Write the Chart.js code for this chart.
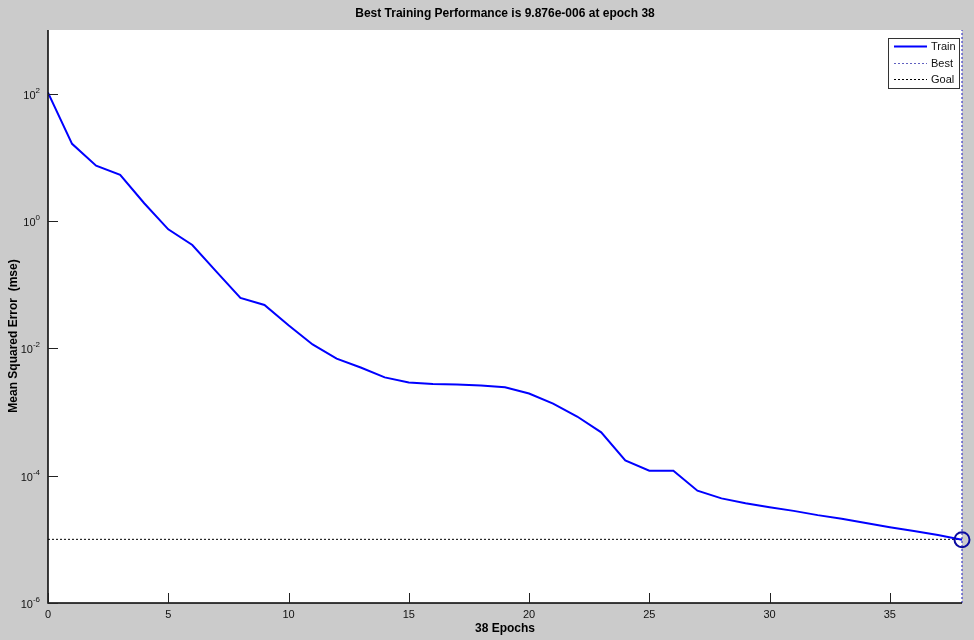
<!DOCTYPE html>
<html><head><meta charset="utf-8">
<script src="https://cdn.jsdelivr.net/npm/chart.js@4.4.1/dist/chart.umd.min.js"></script>
<style>html,body{margin:0;padding:0;background:#cbcbcb;}#wrap{width:974px;height:640px;}</style>
</head><body><div id="wrap"><canvas id="c" width="974" height="640"></canvas></div>
<script>
const epochs = [0,1,2,3,4,5,6,7,8,9,10,11,12,13,14,15,16,17,18,19,20,21,22,23,24,25,26,27,28,29,30,31,32,33,34,35,36,37,38];
const trainMse = [104,16.3,7.4,5.3,1.9,0.74,0.42,0.16,0.062,0.048,0.023,0.0115,0.0069,0.0050,0.0035,0.0029,0.00275,0.0027,0.0026,0.00245,0.00195,0.00135,0.00085,0.00048,0.000173,0.00012,0.00012,0.000058,0.000044,0.000037,0.000032,0.000028,0.000024,0.000021,0.000018,0.0000155,0.0000135,0.0000117,0.000009876];
const bestEpoch = 38;
const bestValue = 9.876e-6;
const goalValue = 1e-5;
const xTicks = [0,5,10,15,20,25,30,35];
const yTicks = [1e2,1e0,1e-2,1e-4,1e-6];
const yTickExp = ["2","0","-2","-4","-6"];
const titleText = "Best Training Performance is 9.876e-006 at epoch 38";
const xTitle = "38 Epochs";
const yTitle = "Mean Squared Error  (mse)";
const legendLabels = ["Train","Best","Goal"];

const FONT = '"Liberation Sans", Arial, sans-serif';

const decor = {
  id: 'decor',
  beforeDraw(chart) {
    const {ctx, chartArea: a} = chart;
    ctx.save();
    ctx.fillStyle = '#cbcbcb';
    ctx.fillRect(0, 0, chart.width, chart.height);
    ctx.fillStyle = '#ffffff';
    ctx.fillRect(a.left, a.top, a.right - a.left, a.bottom - a.top);
    ctx.restore();
  },
  afterDraw(chart) {
    const {ctx, chartArea: a, scales: {x, y}} = chart;
    ctx.save();
    ctx.strokeStyle = '#000';
    ctx.lineWidth = 1.5;
    ctx.beginPath();
    ctx.moveTo(a.left, a.top); ctx.lineTo(a.left, a.bottom); ctx.lineTo(a.right, a.bottom);
    ctx.stroke();
    ctx.lineWidth = 1;
    ctx.strokeStyle = '#222';
    yTicks.forEach(v => {
      const py = Math.round(y.getPixelForValue(v)) + 0.5;
      ctx.beginPath(); ctx.moveTo(a.left, py); ctx.lineTo(a.left + 10, py); ctx.stroke();
    });
    xTicks.forEach(v => {
      const px = Math.round(x.getPixelForValue(v)) + 0.5;
      ctx.beginPath(); ctx.moveTo(px, a.bottom); ctx.lineTo(px, a.bottom - 10); ctx.stroke();
    });
    ctx.fillStyle = '#111';
    ctx.font = '11px ' + FONT;
    ctx.textAlign = 'center'; ctx.textBaseline = 'top';
    xTicks.forEach(v => ctx.fillText(String(v), x.getPixelForValue(v), a.bottom + 6));
    yTicks.forEach((v, i) => {
      const py = y.getPixelForValue(v);
      ctx.font = '8px ' + FONT;
      ctx.textAlign = 'left'; ctx.textBaseline = 'alphabetic';
      const ew = ctx.measureText(yTickExp[i]).width;
      const ex = a.left - 8 - ew;
      ctx.fillText(yTickExp[i], ex, py - 1);
      ctx.font = '11px ' + FONT;
      ctx.textAlign = 'right';
      ctx.fillText('10', ex, py + 5);
    });
    ctx.font = 'bold 12px ' + FONT;
    ctx.textAlign = 'center'; ctx.textBaseline = 'middle';
    ctx.fillStyle = '#000';
    ctx.fillText(titleText, (a.left + a.right) / 2, 14);
    ctx.fillText(xTitle, (a.left + a.right) / 2, 629);
    ctx.save();
    ctx.translate(14, 336);
    ctx.rotate(-Math.PI / 2);
    ctx.fillText(yTitle, 0, 0);
    ctx.restore();
    const lx = 888, ly = 38, lw = 71, lh = 50;
    ctx.fillStyle = '#fff';
    ctx.fillRect(lx, ly, lw, lh);
    ctx.strokeStyle = '#333'; ctx.lineWidth = 1;
    ctx.strokeRect(lx + 0.5, ly + 0.5, lw, lh);
    const rows = [46, 63, 79];
    const styles = [
      {c: '#0000ff', w: 2, d: []},
      {c: '#6060c0', w: 1, d: [2, 2]},
      {c: '#000000', w: 1, d: [2, 2]}
    ];
    rows.forEach((ry, i) => {
      ctx.strokeStyle = styles[i].c; ctx.lineWidth = styles[i].w; ctx.setLineDash(styles[i].d);
      ctx.beginPath(); ctx.moveTo(894, ry + 0.5); ctx.lineTo(927, ry + 0.5); ctx.stroke();
      ctx.setLineDash([]);
      ctx.fillStyle = '#111';
      ctx.font = '11px ' + FONT;
      ctx.textAlign = 'left'; ctx.textBaseline = 'middle';
      ctx.fillText(legendLabels[i], 931, ry + 1);
    });
    ctx.restore();
  }
};

new Chart(document.getElementById('c'), {
  type: 'scatter',
  data: {
    datasets: [
      {
        label: legendLabels[0],
        data: epochs.map((e, i) => ({x: e, y: trainMse[i]})),
        showLine: true, borderColor: '#0000ff', borderWidth: 2,
        pointRadius: 0, tension: 0, order: 1
      },
      {
        label: legendLabels[1],
        data: [{x: bestEpoch, y: 1e-6}, {x: bestEpoch, y: 1e3}],
        showLine: true, borderColor: '#3a3ac8', borderWidth: 1.2, borderDash: [2, 2],
        pointRadius: 0, clip: false, order: 3
      },
      {
        label: legendLabels[2],
        data: [{x: 0, y: goalValue}, {x: bestEpoch, y: goalValue}],
        showLine: true, borderColor: '#000000', borderWidth: 1, borderDash: [2, 2],
        pointRadius: 0, order: 2
      },
      {
        label: 'best point',
        data: [{x: bestEpoch, y: bestValue}],
        pointRadius: 7.5, pointBorderWidth: 2, pointBorderColor: '#0a0aa0',
        pointBackgroundColor: 'rgba(0,0,0,0)', clip: false, order: 0
      }
    ]
  },
  options: {
    responsive: false, animation: false, devicePixelRatio: 1,
    layout: {padding: {left: 40, right: 12, top: 30, bottom: 29}},
    plugins: {legend: {display: false}, title: {display: false}, tooltip: {enabled: false}},
    scales: {
      x: {
        type: 'linear', min: 0, max: 38,
        grid: {display: false}, border: {display: false},
        ticks: {display: false}
      },
      y: {
        type: 'logarithmic', min: 1e-6, max: 1e3,
        grid: {display: false}, border: {display: false},
        ticks: {display: false}
      }
    }
  },
  plugins: [decor]
});
</script></body></html>
